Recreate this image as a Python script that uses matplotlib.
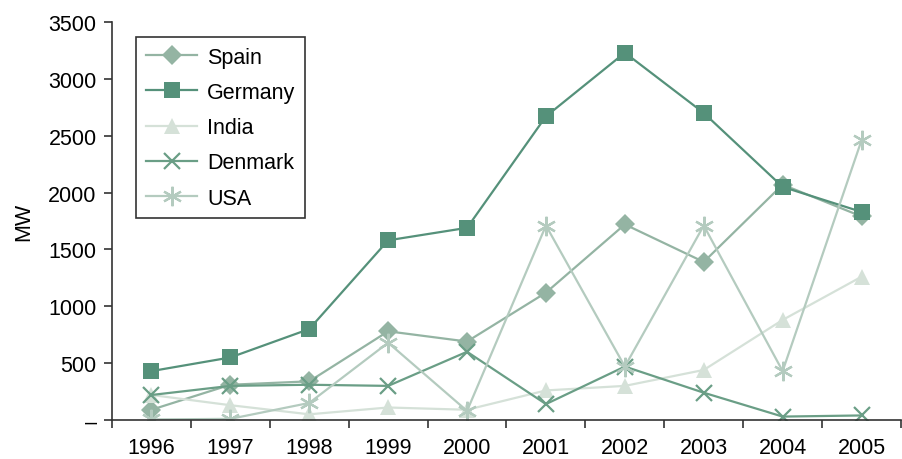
import matplotlib.pyplot as plt
import numpy as np

plt.rcParams['font.family'] = ['Liberation Sans', 'DejaVu Sans']

# Datos (MW instalados por año)
years = ['1996', '1997', '1998', '1999', '2000', '2001', '2002', '2003', '2004', '2005']
spain = [90, 310, 340, 780, 690, 1120, 1720, 1390, 2070, 1790]
germany = [430, 550, 800, 1580, 1690, 2670, 3230, 2700, 2050, 1830]
india = [220, 130, 50, 110, 90, 260, 300, 440, 880, 1260]
denmark = [220, 300, 310, 300, 600, 140, 470, 240, 30, 40]
usa = [5, 10, 150, 680, 80, 1710, 470, 1710, 430, 2460]

series = [
    ('Spain', spain, '#94b4a3', 'D', 10),
    ('Germany', germany, '#55917a', 's', 12),
    ('India', india, '#d5e1d8', '^', 12),
    ('Denmark', denmark, '#6a9e86', 'x', 12),
    ('USA', usa, '#b4cbbf', (6, 2, 0), 14),
]

fs = 15.5

fig = plt.figure(figsize=(9.03, 4.6), dpi=100)
ax = fig.add_axes([112/903, 39/460, 789/903, 398/460])

x = np.arange(len(years))
for name, vals, col, mk, ms in series:
    ax.plot(x, vals, color=col, marker=mk, markersize=ms, linewidth=1.6,
            markeredgewidth=1.6 if mk in ('x', (6, 2, 0)) else 0, label=name)

ax.set_xlim(-0.5, 9.27)
ax.set_ylim(0, 3500)
ax.set_xticks(np.arange(-0.5, 9.6, 1.0))
ax.set_xticklabels([])
ax.set_xticks(x, minor=True)
ax.set_xticklabels(years, minor=True)
ax.tick_params(axis='x', which='major', length=5.5, width=1.2, direction='out', color='#333333')
ax.tick_params(axis='x', which='minor', length=0, pad=12, labelsize=fs)
ax.set_yticks(np.arange(0, 3501, 500))
ax.set_yticklabels(['–'] + [str(v) for v in range(500, 3501, 500)])
ax.tick_params(axis='y', length=6, width=1.2, direction='out', color='#333333', labelsize=fs, pad=5)
ax.set_ylabel('MW', fontsize=fs, labelpad=10)

for s in ['top', 'right']:
    ax.spines[s].set_visible(False)
ax.spines['left'].set_linewidth(1.2)
ax.spines['bottom'].set_linewidth(1.2)
ax.spines['left'].set_color('#333333')
ax.spines['bottom'].set_color('#333333')

leg = ax.legend(loc='upper left', bbox_to_anchor=(0.0304, 0.962), borderaxespad=0,
                fontsize=fs, fancybox=False, edgecolor='#333333', framealpha=1,
                handlelength=2.4, handletextpad=0.45, borderpad=0.45,
                labelspacing=0.66, numpoints=1)
leg.get_frame().set_linewidth(1.2)

fig.savefig('out.png', dpi=100)
